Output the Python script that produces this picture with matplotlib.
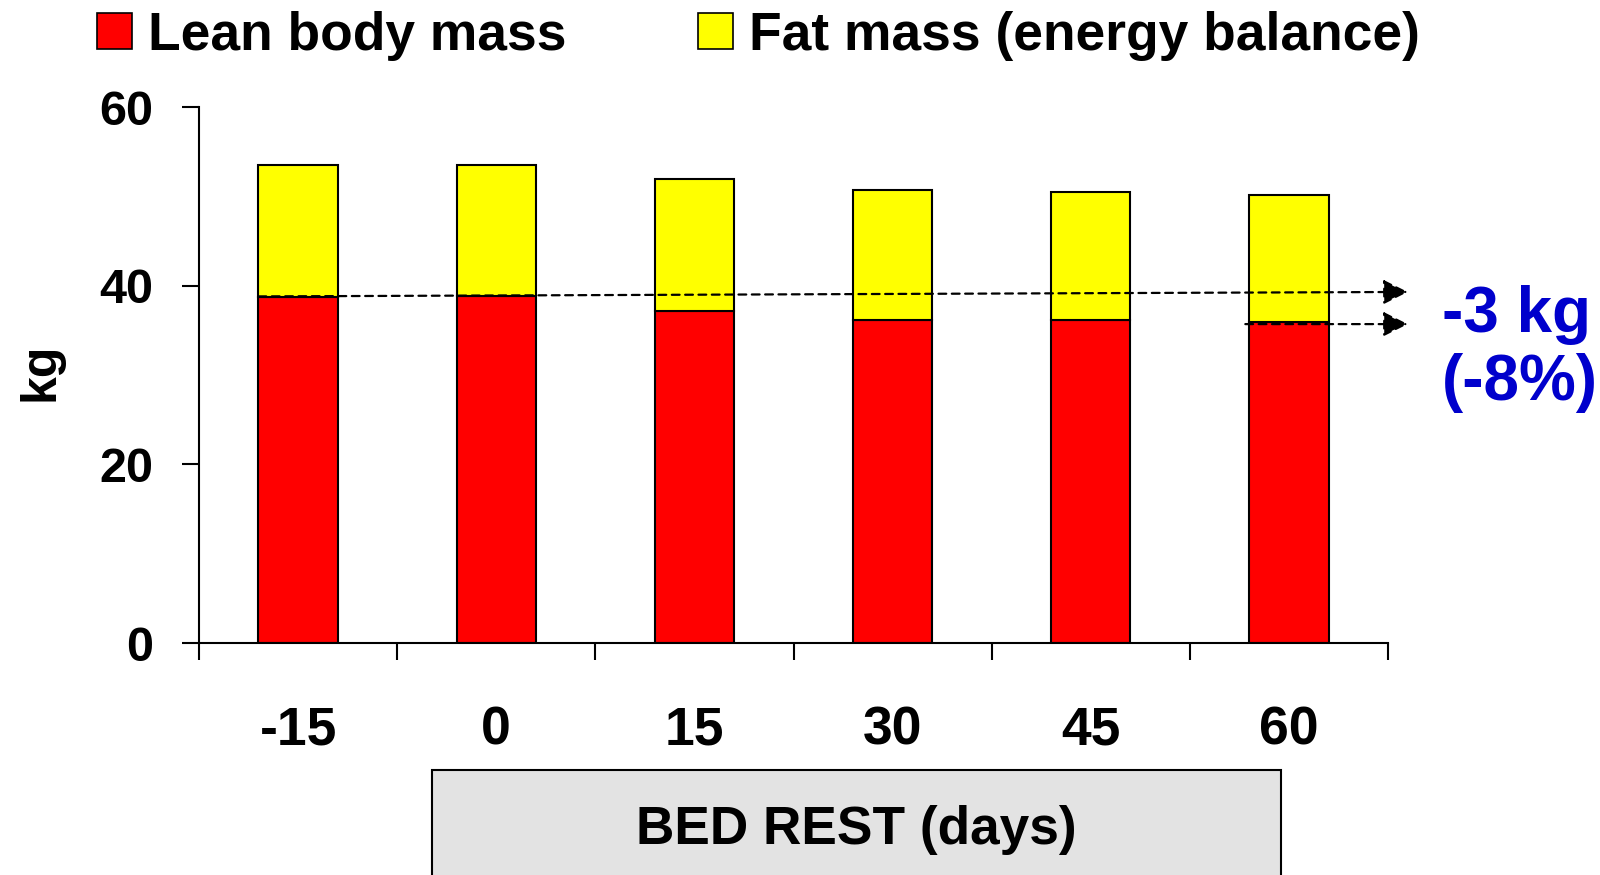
import matplotlib.pyplot as plt
from matplotlib.patches import Rectangle, Patch

plt.rcParams['font.family'] = ['Liberation Sans', 'DejaVu Sans']
plt.rcParams['font.weight'] = 'bold'

# body composition during bed rest (kg)
days = ['-15', '0', '15', '30', '45', '60']
lean_mass = [38.7, 38.9, 37.2, 36.2, 36.2, 35.9]
fat_mass = [14.8, 14.6, 14.7, 14.5, 14.3, 14.3]
yticks = [0, 20, 40, 60]

fig = plt.figure(figsize=(16, 8.75), dpi=100)
ax = fig.add_axes([0.1244, 0.2651, 0.7431, 0.6126])

x = range(len(days))
ax.bar(x, lean_mass, width=0.4, color='#ff0000', edgecolor='black', lw=1.5, zorder=2)
ax.bar(x, fat_mass, width=0.4, bottom=lean_mass, color='#ffff00',
       edgecolor='black', lw=1.5, zorder=2)

ax.set_xlim(-0.5, len(days) - 0.5)
ax.set_ylim(0, 60)
ax.set_yticks(yticks)
ax.tick_params(axis='y', length=12, width=1.5, pad=21, labelsize=35)
# boundary ticks on the major locator, day labels on the minor one
ax.set_xticks([i - 0.5 for i in range(len(days) + 1)])
ax.set_xticklabels([])
ax.set_xticks(list(x), minor=True)
ax.set_xticklabels(days, minor=True)
ax.tick_params(axis='x', which='major', length=12, width=1.5)
ax.tick_params(axis='x', which='minor', length=0, pad=45, labelsize=38.5)
for side in ['top', 'right']:
    ax.spines[side].set_visible(False)
for side in ['left', 'bottom']:
    ax.spines[side].set_linewidth(1.5)

# lean mass at start vs end of bed rest
arrow = dict(arrowstyle='-|>', linestyle=(0, (3.5, 2.5)), lw=1.6, color='black',
             mutation_scale=38, shrinkA=0, shrinkB=0)
ax.annotate('', xy=(5.6, 39.3), xytext=(-0.2, 38.8), annotation_clip=False,
            arrowprops=arrow)
ax.annotate('', xy=(5.6, 35.7), xytext=(4.78, 35.7), annotation_clip=False,
            arrowprops=arrow)
fig.text(0.901, 0.621, '-3 kg', color='#0000cc', fontsize=46, ha='left', va='baseline')
fig.text(0.901, 0.543, '(-8%)', color='#0000cc', fontsize=46, ha='left', va='baseline')

fig.text(0.0256, 0.575, 'kg', rotation=90, fontsize=36, ha='center', va='center')

# x axis caption box
fig.patches.append(Rectangle((0.27, -0.05), 0.5306, 0.17, transform=fig.transFigure,
                             facecolor='#e3e3e3', edgecolor='black', lw=1.5))
fig.text(0.535, 0.051, 'BED REST (days)', fontsize=38.3, ha='center', va='center')

handles = [Patch(facecolor='#ff0000', edgecolor='black', lw=1.2),
           Patch(facecolor='#ffff00', edgecolor='black', lw=1.2)]
fig.legend(handles, ['Lean body mass', 'Fat mass (energy balance)'], ncol=2,
           loc='center left', bbox_to_anchor=(0.0606, 0.959), frameon=False,
           fontsize=38.4, handlelength=0.66, handleheight=0.66, handletextpad=0.3,
           columnspacing=2.46, borderpad=0, borderaxespad=0)

fig.savefig('out.png', dpi=100)
